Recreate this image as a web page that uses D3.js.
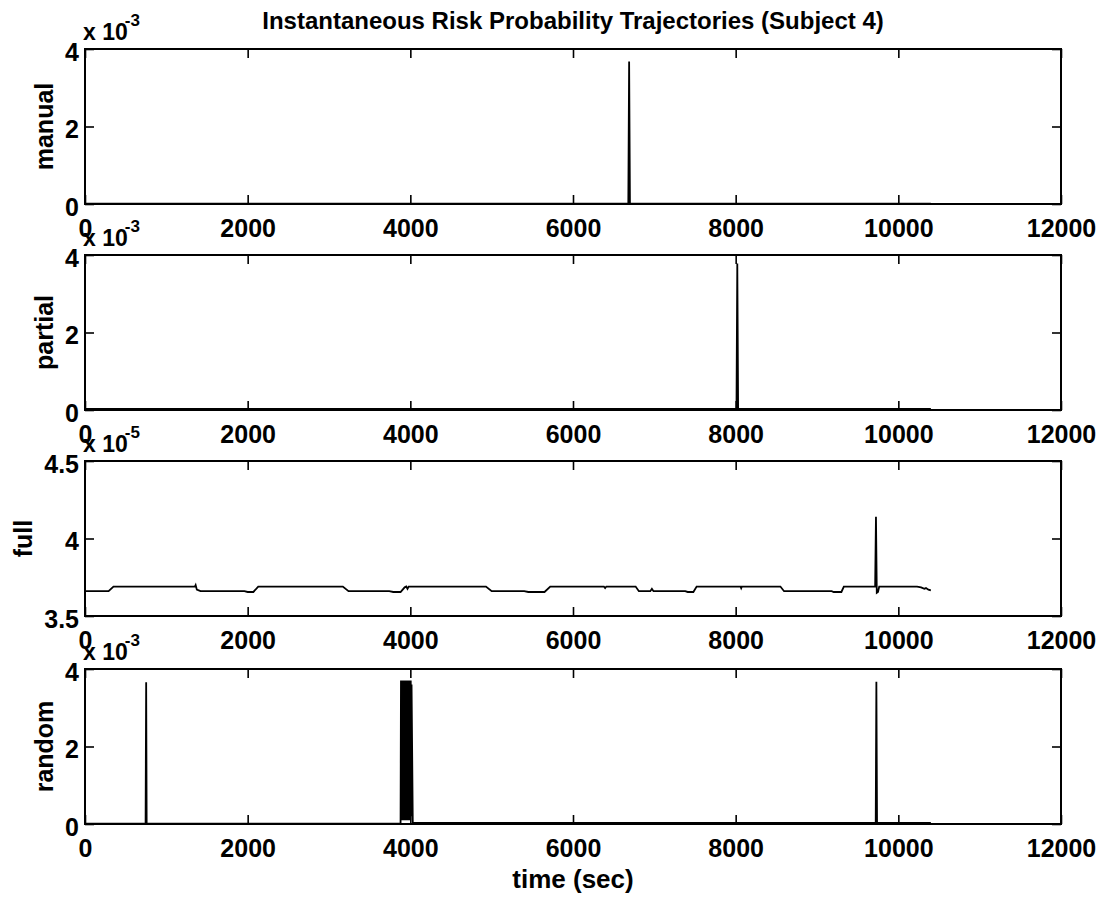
<!DOCTYPE html>
<html>
<head>
<meta charset="utf-8">
<script src="https://cdn.jsdelivr.net/npm/d3@7"></script>
<style>
  body { margin: 0; background: #fff; }
  text { font-family: "Liberation Sans", Arial, Helvetica, sans-serif; font-weight: bold; fill: #000; }
</style>
</head>
<body>
<div id="chart"></div>
<script>
// values
const titleText = "Instantaneous Risk Probability Trajectories (Subject 4)";
const panelNames = ["manual", "partial", "full", "random"];
const panelExponents = ["-3", "-3", "-5", "-3"];
const xTicks = [0, 2000, 4000, 6000, 8000, 10000, 12000];
const yTicksRisk = [0, 2, 4];
const yTicksFull = [3.5, 4, 4.5];

const manualTime = [0, 6680, 6690, 6700, 10400];
const manualRisk = [0.01, 0.01, 3.68, 0.01, 0.01];

const partialTime = [0, 8010, 8020, 8030, 10400];
const partialRisk = [0.03, 0.03, 3.78, 0.03, 0.03];

const fullTime = [0, 290, 350, 1350, 1360, 1375, 1420, 1960, 2000, 2070, 2130, 3170, 3240, 3740, 3790, 3880,
  3930, 3950, 3965, 3980, 4930, 5000, 5400, 5450, 5650, 5720, 6380, 6395, 6410, 6770, 6810, 6950, 6970, 6990,
  7380, 7410, 7480, 7520, 8060, 8068, 8076, 8550, 8595, 9180, 9205, 9300, 9330, 9715, 9725, 9735, 9750, 9765,
  10230, 10280, 10320, 10340, 10370, 10400];
const fullRisk = [3.66, 3.66, 3.69, 3.69, 3.70, 3.67, 3.66, 3.66, 3.655, 3.655, 3.69, 3.69, 3.66, 3.66, 3.655, 3.655,
  3.685, 3.69, 3.675, 3.69, 3.69, 3.66, 3.66, 3.655, 3.655, 3.69, 3.69, 3.68, 3.69, 3.69, 3.66, 3.66, 3.675, 3.66,
  3.66, 3.655, 3.655, 3.69, 3.69, 3.68, 3.69, 3.69, 3.66, 3.66, 3.655, 3.655, 3.69, 3.69, 4.14, 3.65, 3.655, 3.69,
  3.69, 3.685, 3.675, 3.68, 3.67, 3.665];

const randomTime = [0, 745, 752, 758, 3880, 3885, 3890, 3895, 3900, 3905, 3910, 3915, 3920, 3925, 3930, 3935,
  3940, 3945, 3950, 3955, 3960, 3965, 3970, 3975, 3980, 3985, 3990, 3995, 4000, 4005, 4010, 4015, 4030,
  9722, 9730, 9738, 10400];
const randomRisk = [0.01, 0.01, 3.66, 0.01, 0.01, 3.7, 0.3, 3.7, 0.1, 3.7, 0.2, 3.7, 0.1, 3.7, 0.3, 3.7,
  0.1, 3.7, 0.2, 3.7, 0.1, 3.7, 0.2, 3.7, 0.1, 3.7, 0.3, 3.7, 0.1, 3.7, 0.2, 3.6, 0.03,
  0.03, 3.67, 0.03, 0.03];

const seriesTime = [manualTime, partialTime, fullTime, randomTime];
const seriesRisk = [manualRisk, partialRisk, fullRisk, randomRisk];
const yDomains = [[0, 4], [0, 4], [3.5, 4.5], [0, 4]];
const yTickSets = [yTicksRisk, yTicksRisk, yTicksFull, yTicksRisk];

const svgWidth = 1109, svgHeight = 908;
const left = 85, right = 1061,
      width = right - left,
      height = 155;
const panelTops = [49, 255, 461, 669];
const tick = 9;

const svg = d3.select("#chart")
    .append("svg")
    .attr("width", svgWidth)
    .attr("height", svgHeight);

svg.append("rect")
    .attr("width", svgWidth)
    .attr("height", svgHeight)
    .attr("fill", "#fff");

const x = d3.scaleLinear().domain([0, 12000]).range([0, width]);

panelNames.forEach(function(name, i) {
    const g = svg.append("g")
        .attr("transform", "translate(" + left + "," + panelTops[i] + ")");

    const y = d3.scaleLinear().domain(yDomains[i]).range([height, 0]);
    const fmt = d => String(d);

    // inward ticks on all four sides, labels only bottom and left
    const bottom = g.append("g")
        .attr("transform", "translate(0," + height + ")")
        .call(d3.axisBottom(x).tickValues(xTicks).tickSize(-tick).tickPadding(15).tickFormat(fmt));
    g.append("g")
        .call(d3.axisTop(x).tickValues(xTicks).tickSize(-tick).tickFormat(""));
    const leftAxis = g.append("g")
        .call(d3.axisLeft(y).tickValues(yTickSets[i]).tickSize(-tick).tickPadding(6).tickFormat(fmt));
    g.append("g")
        .attr("transform", "translate(" + width + ",0)")
        .call(d3.axisRight(y).tickValues(yTickSets[i]).tickSize(-tick).tickFormat(""));

    g.selectAll(".domain").remove();
    g.selectAll(".tick line").attr("stroke", "#000").attr("stroke-width", 1.6);
    bottom.selectAll("text").style("font-size", "25px").attr("fill", "#000");
    leftAxis.selectAll("text").style("font-size", "25px").attr("dy", "0.45em").attr("fill", "#000");

    // the trace
    const pts = seriesTime[i].map((t, k) => [t, seriesRisk[i][k]]);
    g.append("path")
        .datum(pts)
        .attr("d", d3.line().x(d => x(d[0])).y(d => y(d[1])))
        .attr("fill", "none")
        .attr("stroke", "#000")
        .attr("stroke-width", 1.8)
        .attr("stroke-linejoin", "miter");

    // frame
    g.append("rect")
        .attr("width", width)
        .attr("height", height)
        .attr("fill", "none")
        .attr("stroke", "#000")
        .attr("stroke-width", 2);

    // exponent label
    const ex = g.append("text")
        .attr("x", -2)
        .attr("y", -9)
        .style("font-size", "23px")
        .text("x 10");
    ex.append("tspan")
        .attr("dx", -3)
        .attr("dy", -14)
        .style("font-size", "17px")
        .text(panelExponents[i]);

    // y label sits left of the widest tick label
    let minX = 0;
    leftAxis.selectAll("text").each(function() {
        minX = Math.min(minX, this.getBBox().x);
    });
    g.append("text")
        .attr("transform", "translate(" + (minX - 12) + "," + (height / 2) + ") rotate(-90)")
        .attr("text-anchor", "middle")
        .style("font-size", "25px")
        .text(name);
});

svg.append("text")
    .attr("x", left + width / 2)
    .attr("y", 29)
    .attr("text-anchor", "middle")
    .style("font-size", "24px")
    .text(titleText);

svg.append("text")
    .attr("x", left + width / 2)
    .attr("y", 888)
    .attr("text-anchor", "middle")
    .style("font-size", "26px")
    .text("time (sec)");
</script>
</body>
</html>
